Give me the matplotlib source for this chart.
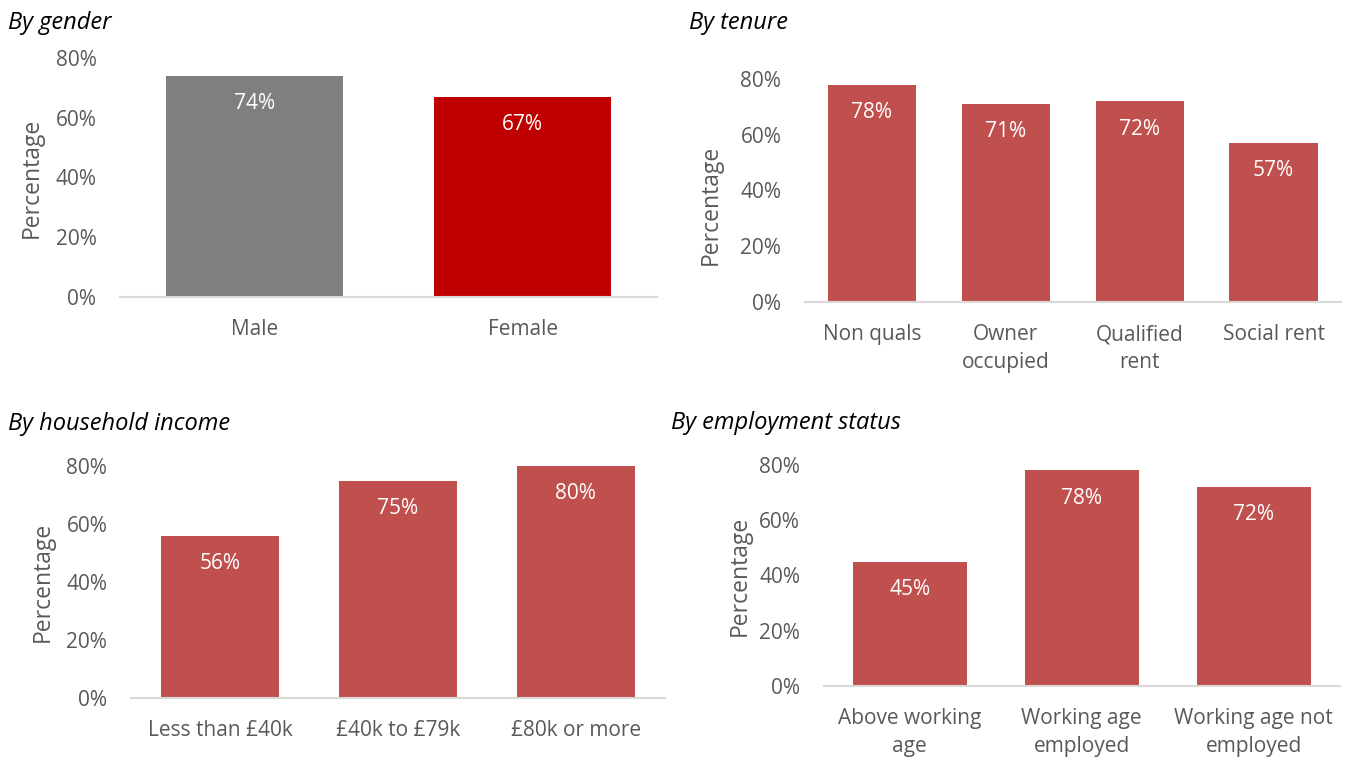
import matplotlib.pyplot as plt
from matplotlib.ticker import PercentFormatter

plt.rcParams['font.family'] = ['Open Sans', 'DejaVu Sans']

# survey shares, in percent
gender_labels = ['Male', 'Female']
gender_values = [74, 67]

tenure_labels = ['Non quals', 'Owner\noccupied', 'Qualified\nrent', 'Social rent']
tenure_values = [78, 71, 72, 57]

income_labels = ['Less than £40k', '£40k to £79k', '£80k or more']
income_values = [56, 75, 80]

employment_labels = ['Above working\nage', 'Working age\nemployed', 'Working age not\nemployed']
employment_values = [45, 78, 72]

TEXT_GREY = '#595959'
AXIS_GREY = '#d9d9d9'
BAR_RED = '#c0504d'


def bar_panel(fig, rect, title, title_xy, labels, values, colors, ylabel_xy):
    ax = fig.add_axes(rect)
    x = list(range(len(labels)))
    ax.bar(x, values, width=0.66, color=colors)
    ax.set_xlim(-0.5, len(labels) - 0.5)
    ax.set_ylim(0, 80)
    ax.set_yticks([0, 20, 40, 60, 80])
    ax.yaxis.set_major_formatter(PercentFormatter(decimals=0))
    ax.set_xticks(x)
    ax.set_xticklabels(labels, linespacing=1.45)

    for side in ['top', 'right', 'left']:
        ax.spines[side].set_visible(False)
    ax.spines['bottom'].set_color(AXIS_GREY)
    ax.spines['bottom'].set_linewidth(1.5)
    ax.tick_params(axis='both', length=0, labelsize=15, labelcolor=TEXT_GREY)
    ax.tick_params(axis='y', pad=17)
    ax.tick_params(axis='x', pad=16)

    ax.set_ylabel('Percentage', fontsize=16.5, color=TEXT_GREY, va='center')
    ax.yaxis.set_label_coords(*ylabel_xy)

    # value labels sit just inside the top of each bar
    for i, v in enumerate(values):
        ax.annotate(f'{v}%', (i, v), xytext=(0, -20), textcoords='offset points',
                    ha='center', va='center', color='white', fontsize=15)

    fig.text(title_xy[0], title_xy[1], title, fontsize=17, style='italic',
             color='black', ha='left', va='center')
    return ax


fig = plt.figure(figsize=(13.46, 7.58), dpi=100)

bar_panel(fig, [0.0892, 0.6082, 0.399, 0.3153], 'By gender', (0.006, 0.969),
          gender_labels, gender_values, ['#7f7f7f', '#c00000'], (-0.164, 0.5))

bar_panel(fig, [0.598, 0.6016, 0.398, 0.2942], 'By tenure', (0.512, 0.970),
          tenure_labels, tenure_values, BAR_RED, (-0.175, 0.435))

bar_panel(fig, [0.0973, 0.0792, 0.3967, 0.306], 'By household income', (0.006, 0.441),
          income_labels, income_values, BAR_RED, (-0.165, 0.5))

bar_panel(fig, [0.612, 0.095, 0.3834, 0.2916], 'By employment status', (0.4985, 0.442),
          employment_labels, employment_values, BAR_RED, (-0.163, 0.5))

fig.savefig('out.png', dpi=100)
